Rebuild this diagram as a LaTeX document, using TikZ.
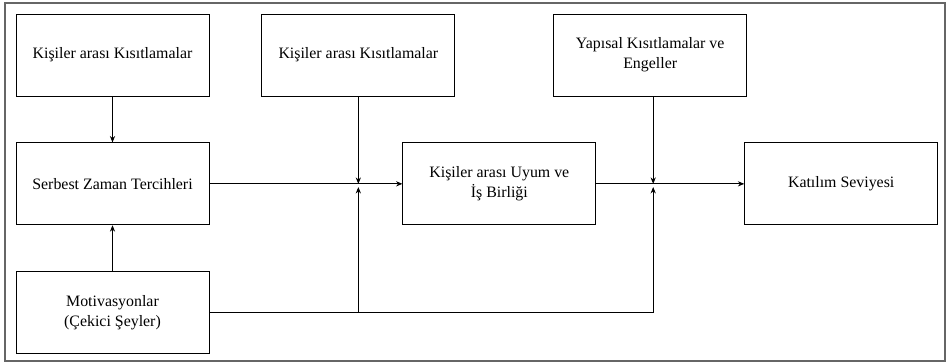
\documentclass[tikz,border=0pt]{standalone}
\usepackage{fontspec}
\setmainfont{Liberation Serif}
\usepackage{tikz}
\usetikzlibrary{arrows.meta,calc,positioning}

\begin{document}
\begin{tikzpicture}[
  box/.style={draw=black,line width=0.6pt,minimum width=48.25mm,minimum height=20.5mm,align=center,inner sep=1pt,font=\fontsize{11.3}{14.2}\selectfont},
  flow/.style={-{Stealth[length=1.6mm,width=1.3mm]},draw=black,line width=0.6pt},
  line/.style={draw=black,line width=0.6pt},
  node distance=11.5mm and 13mm
]
\useasboundingbox (-2.8125,1.375) rectangle (20.8375,-7.7);
\draw[gray!80!black,line width=0.8pt] (-2.6875,1.3) rectangle (20.8125,-7.65);

\node[box] (kisit1) at (0,0) {Kişiler arası Kısıtlamalar};
\node[box,right=of kisit1] (kisit2) {Kişiler arası Kısıtlamalar};
\node[box,right=24.5mm of kisit2] (yapisal) {Yapısal Kısıtlamalar ve\\Engeller};
\node[box,below=of kisit1] (tercih) {Serbest Zaman Tercihleri};
\node[box,below=of tercih] (motiv) {Motivasyonlar\\(Çekici Şeyler)};
\node[box,right=48.25mm of tercih] (uyum) {Kişiler arası Uyum ve\\İş Birliği};
\node[box,right=37mm of uyum] (katilim) {Katılım Seviyesi};

\coordinate (j1) at (kisit2.south |- tercih.east);
\coordinate (j2) at ($(yapisal.south |- uyum.east)+(0.075,0)$);

\draw[flow] (kisit1) -- (tercih);
\draw[flow] (motiv) -- (tercih);
\draw[flow] (tercih) -- (uyum);
\draw[flow] (uyum) -- (katilim);
\draw[flow] (kisit2.south) -- (j1);
\draw[flow] (yapisal.south -| j2) -- (j2);
\draw[flow] (motiv.east) -| ($(j1)+(0,-0.08)$);
\draw[flow] (motiv.east) -| ($(j2)+(0,-0.08)$);
\end{tikzpicture}
\end{document}
